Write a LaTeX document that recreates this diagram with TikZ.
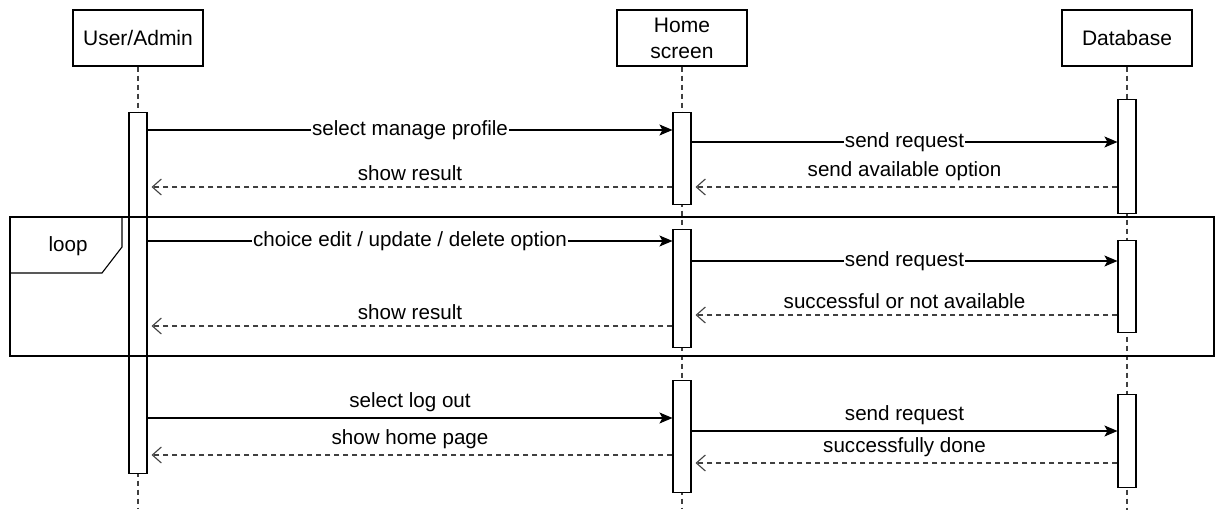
\documentclass[tikz,border=0pt]{standalone}
\usepackage{fontspec}
\setmainfont{Liberation Sans}
\usetikzlibrary{arrows.meta}
\begin{document}
\begin{tikzpicture}[x=1pt,y=-1pt,line width=1.1pt,
  actor/.style={draw,fill=white,minimum width=130pt,minimum height=56pt,
    align=center,inner sep=2pt,font=\fontsize{21}{26}\selectfont},
  act/.style={draw,fill=white,minimum width=18pt,inner sep=0pt,anchor=north},
  life/.style={draw=black!75,dash pattern=on 5pt off 4pt},
  msg/.style={-{Stealth[length=13pt,width=11pt,inset=3pt]}},
  ret/.style={draw=black!75,dash pattern=on 5pt off 4pt,shorten >=4pt,
    -{Straight Barb[length=9pt,width=16pt,line width=1.1pt]}},
  lbl/.style={font=\fontsize{20.6}{24}\selectfont,inner sep=1pt},
  onl/.style={lbl,fill=white},
  abv/.style={lbl,above=5pt}]
  \useasboundingbox (0,0) rectangle (1216,510);

  % participants
  \node[actor] (user) at (138,38) {User/Admin};
  \node[actor] (home) at (682,38) {Home\\screen};
  \node[actor] (db) at (1127,38) {Database};
  \coordinate (userend) at (138,508);
  \coordinate (homeend) at (682,508);
  \coordinate (dbend) at (1127,510);
  \draw[life] (user.south) -- (userend);
  \draw[life] (home.south) -- (homeend);
  \draw[life] (db.south) -- (dbend);

  % activations
  \node[act,minimum height=361pt] (ua) at (138,112) {};
  \node[act,minimum height=92pt] (hs1) at (682,112) {};
  \node[act,minimum height=118pt] (hs2) at (682,229) {};
  \node[act,minimum height=112pt] (hs3) at (682,380) {};
  \node[act,minimum height=114pt] (db1) at (1127,99) {};
  \node[act,minimum height=92pt] (db2) at (1127,240) {};
  \node[act,minimum height=93pt] (db3) at (1127,394) {};

  % loop frame
  \draw (10,217) rectangle (1214,356);
  \draw (10,273) -- (10,217) -- (122,217) -- (122,247) -- (102,273) -- cycle;
  \node[lbl] (looplbl) at (68,246) {loop};

  % messages
  \draw[msg] (ua.east |- 0,130) -- (hs1.west |- 0,130) node[midway,onl] {select manage profile};
  \draw[msg] (hs1.east |- 0,142) -- (db1.west |- 0,142) node[midway,onl] {send request};
  \draw[ret] (db1.west |- 0,187) -- (hs1.east |- 0,187) node[midway,abv] {send available option};
  \draw[ret] (hs1.west |- 0,187) -- (ua.east |- 0,187) node[midway,abv] {show result};

  \draw[msg] (ua.east |- 0,241) -- (hs2.west |- 0,241) node[midway,onl] {choice edit / update / delete option};
  \draw[msg] (hs2.east |- 0,261) -- (db2.west |- 0,261) node[midway,onl] {send request};
  \draw[ret] (db2.west |- 0,315) -- (hs2.east |- 0,315) node[midway,abv] {successful or not available};
  \draw[ret] (hs2.west |- 0,326) -- (ua.east |- 0,326) node[midway,abv] {show result};

  \draw[msg] (ua.east |- 0,418) -- (hs3.west |- 0,418) node[midway,abv] {select log out};
  \draw[msg] (hs3.east |- 0,431) -- (db3.west |- 0,431) node[midway,abv] {send request};
  \draw[ret] (hs3.west |- 0,455) -- (ua.east |- 0,455) node[midway,abv] {show home page};
  \draw[ret] (db3.west |- 0,463) -- (hs3.east |- 0,463) node[midway,abv] {successfully done};
\end{tikzpicture}
\end{document}
